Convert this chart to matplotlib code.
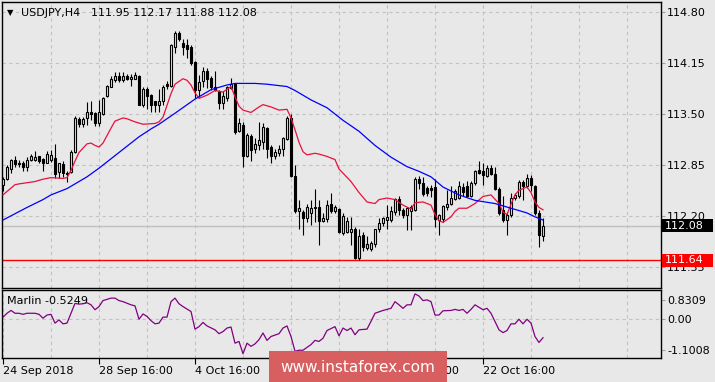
import matplotlib
matplotlib.use("Agg")
import matplotlib.pyplot as plt
from matplotlib.patches import Rectangle
import numpy as np

W, H = 715, 382

symbol = "USDJPY,H4"

# H4 candles, one entry per bar
opens = [112.60, 112.67, 112.80, 112.92, 112.88, 112.87, 112.82, 112.91, 112.91, 112.96,
         112.93, 112.88, 112.91, 112.94, 112.76, 112.86, 112.75, 112.76, 113.02, 113.44,
         113.37, 113.45, 113.53, 113.51, 113.39, 113.50, 113.73, 113.85, 113.93, 113.99,
         113.93, 113.99, 113.95, 113.95, 113.98, 113.62, 113.82, 113.74, 113.66, 113.61,
         113.66, 113.88, 113.86, 114.36, 114.53, 114.40, 114.38, 114.35, 114.16, 113.81,
         113.92, 114.05, 113.96, 113.85, 113.79, 113.64, 113.71, 113.83, 113.88, 113.28,
         113.36, 112.97, 113.22, 113.05, 113.10, 113.15, 113.32, 113.08, 112.96, 113.00,
         113.06, 113.18, 113.45, 112.71, 112.26, 112.25, 112.17, 112.24, 112.30, 112.31,
         112.14, 112.16, 112.36, 112.26, 112.29, 111.99, 112.00, 112.00, 112.04, 111.66,
         111.96, 111.79, 111.78, 111.85, 112.03, 112.11, 112.15, 112.15, 112.25, 112.42,
         112.28, 112.22, 112.26, 112.28, 112.67, 112.62, 112.56, 112.56, 112.57, 112.15,
         112.16, 112.31, 112.36, 112.42, 112.43, 112.57, 112.58, 112.46, 112.62, 112.79,
         112.77, 112.71, 112.81, 112.73, 112.55, 112.28, 112.15, 112.21, 112.43, 112.45,
         112.64, 112.58, 112.68, 112.58, 112.24, 111.95]
highs = [112.70, 112.85, 112.93, 112.96, 112.91, 112.90, 112.95, 112.99, 113.03, 112.97,
         112.94, 113.03, 113.04, 113.12, 112.88, 112.90, 112.77, 113.04, 113.47, 113.46,
         113.46, 113.65, 113.66, 113.53, 113.68, 113.72, 113.87, 113.99, 114.03, 114.04,
         114.04, 114.01, 114.01, 114.03, 114.00, 113.85, 113.85, 113.76, 113.67, 113.82,
         113.87, 113.92, 114.39, 114.56, 114.56, 114.46, 114.46, 114.38, 114.17, 114.00,
         114.10, 114.08, 113.99, 114.05, 113.81, 113.79, 113.86, 113.96, 113.89, 113.45,
         113.40, 113.26, 113.25, 113.20, 113.40, 113.38, 113.34, 113.10, 113.06, 113.10,
         113.21, 113.48, 113.50, 112.85, 112.40, 112.28, 112.36, 112.41, 112.54, 112.41,
         112.24, 112.41, 112.49, 112.34, 112.30, 112.24, 112.19, 112.19, 112.06, 112.04,
         112.00, 111.94, 111.88, 112.04, 112.17, 112.19, 112.34, 112.33, 112.43, 112.45,
         112.30, 112.32, 112.34, 112.70, 112.71, 112.70, 112.58, 112.60, 112.67, 112.23,
         112.34, 112.53, 112.58, 112.54, 112.65, 112.62, 112.65, 112.65, 112.79, 112.90,
         112.88, 112.85, 112.85, 112.83, 112.57, 112.45, 112.25, 112.49, 112.49, 112.66,
         112.66, 112.74, 112.72, 112.60, 112.28, 112.17]
lows = [112.52, 112.66, 112.75, 112.82, 112.82, 112.77, 112.78, 112.90, 112.90, 112.87,
        112.77, 112.87, 112.89, 112.69, 112.68, 112.70, 112.64, 112.75, 113.00, 113.34,
        113.34, 113.36, 113.43, 113.35, 113.35, 113.49, 113.72, 113.84, 113.91, 113.91,
        113.91, 113.93, 113.86, 113.94, 113.61, 113.59, 113.57, 113.53, 113.52, 113.52,
        113.62, 113.82, 113.84, 114.28, 114.43, 114.25, 114.22, 114.13, 113.70, 113.72,
        113.85, 113.83, 113.81, 113.79, 113.57, 113.57, 113.67, 113.82, 113.24, 113.27,
        112.83, 112.95, 112.90, 113.00, 113.04, 113.06, 112.94, 112.87, 112.93, 112.97,
        112.96, 113.17, 112.70, 112.24, 112.04, 111.96, 112.13, 112.09, 112.13, 111.83,
        112.13, 112.13, 112.24, 112.24, 111.98, 111.96, 111.98, 111.83, 111.65, 111.64,
        111.75, 111.77, 111.75, 111.81, 112.00, 112.07, 112.04, 112.12, 112.21, 112.21,
        112.17, 112.02, 112.02, 112.26, 112.55, 112.45, 112.45, 112.44, 112.06, 111.96,
        112.12, 112.28, 112.34, 112.40, 112.42, 112.45, 112.44, 112.44, 112.60, 112.74,
        112.60, 112.70, 112.72, 112.53, 112.22, 112.13, 111.96, 112.19, 112.41, 112.43,
        112.41, 112.56, 112.52, 112.22, 111.81, 111.88]
closes = [112.67, 112.82, 112.91, 112.86, 112.86, 112.82, 112.91, 112.96, 112.95, 112.90,
          112.87, 112.99, 112.98, 112.73, 112.87, 112.75, 112.73, 113.02, 113.45, 113.37,
          113.44, 113.53, 113.50, 113.39, 113.52, 113.70, 113.86, 113.94, 113.98, 113.93,
          113.99, 113.95, 113.97, 114.00, 113.62, 113.82, 113.73, 113.61, 113.61, 113.66,
          113.85, 113.86, 114.38, 114.53, 114.45, 114.36, 114.33, 114.15, 113.81, 113.91,
          114.05, 113.95, 113.85, 113.81, 113.64, 113.73, 113.84, 113.88, 113.27, 113.38,
          112.97, 113.23, 113.04, 113.12, 113.17, 113.34, 113.06, 112.96, 113.02, 113.06,
          113.19, 113.45, 112.71, 112.26, 112.30, 112.17, 112.31, 112.30, 112.31, 112.14,
          112.18, 112.34, 112.26, 112.31, 112.00, 112.20, 112.14, 112.04, 111.66, 111.95,
          111.80, 111.84, 111.86, 112.03, 112.11, 112.17, 112.19, 112.26, 112.42, 112.28,
          112.21, 112.30, 112.32, 112.67, 112.62, 112.48, 112.50, 112.53, 112.16, 112.21,
          112.33, 112.36, 112.43, 112.52, 112.58, 112.51, 112.46, 112.62, 112.78, 112.75,
          112.72, 112.81, 112.73, 112.55, 112.24, 112.15, 112.21, 112.43, 112.47, 112.64,
          112.58, 112.68, 112.60, 112.24, 111.96, 112.08]

# fast (red) moving average, read at bar positions
fast_idx = [0, 3, 4, 8, 10, 12, 15, 16, 17, 18, 19, 21, 22, 23, 24, 25, 27, 28, 30, 31,
            33, 35, 38, 39, 40, 42, 43, 45, 46, 47, 48, 49, 51, 53, 55, 57, 58, 59, 60, 62,
            64, 65, 67, 69, 71, 72, 73, 74, 75, 76, 78, 79, 81, 83, 84, 87, 89, 91, 93, 94,
            96, 98, 100, 102, 103, 105, 107, 108, 109, 110, 112, 113, 114, 116, 118, 120,
            122, 124, 125, 126, 127, 128, 129, 131, 132, 133, 134, 135]
fast_val = [112.47, 112.60, 112.61, 112.64, 112.67, 112.69, 112.68, 112.69, 112.78, 112.90,
            113.01, 113.12, 113.13, 113.10, 113.08, 113.13, 113.32, 113.41, 113.45, 113.44,
            113.40, 113.37, 113.38, 113.40, 113.46, 113.76, 113.88, 113.95, 113.93, 113.87,
            113.77, 113.70, 113.74, 113.80, 113.78, 113.85, 113.72, 113.60, 113.55, 113.52,
            113.59, 113.62, 113.59, 113.55, 113.56, 113.45, 113.30, 113.14, 113.02, 112.98,
            113.00, 112.99, 112.96, 112.92, 112.80, 112.64, 112.50, 112.38, 112.36, 112.41,
            112.43, 112.41, 112.34, 112.29, 112.37, 112.38, 112.34, 112.22, 112.14, 112.12,
            112.19, 112.26, 112.30, 112.30, 112.36, 112.45, 112.47, 112.36, 112.25, 112.22,
            112.35, 112.47, 112.53, 112.57, 112.50, 112.38, 112.31, 112.28]

# slow (blue) moving average
slow_idx = [0, 6, 10, 12, 16, 21, 24, 28, 31, 34, 37, 39, 43, 48, 52, 56, 58, 63, 66, 71,
            73, 77, 81, 85, 89, 93, 97, 101, 104, 107, 110, 114, 118, 123, 127, 131, 133, 135]
slow_val = [112.15, 112.31, 112.41, 112.47, 112.55, 112.70, 112.81, 112.97, 113.09, 113.21,
            113.31, 113.37, 113.51, 113.69, 113.81, 113.87, 113.89, 113.89, 113.88, 113.85,
            113.80, 113.68, 113.58, 113.42, 113.28, 113.10, 112.95, 112.83, 112.77, 112.70,
            112.57, 112.47, 112.40, 112.36, 112.30, 112.24, 112.19, 112.15]

# Marlin oscillator
marlin_idx = [0, 1, 2, 3, 4, 5, 6, 8, 9, 10, 11, 12, 13, 14, 15, 16, 17, 18, 19, 20,
              21, 22, 23, 24, 25, 27, 28, 29, 30, 32, 33, 34, 35, 36, 37, 38, 39, 40, 41, 42,
              43, 44, 45, 47, 48, 49, 50, 51, 53, 54, 55, 56, 57, 58, 59, 60, 61, 62, 63, 64,
              65, 66, 67, 69, 70, 71, 72, 73, 74, 75, 77, 78, 79, 80, 81, 83, 84, 85, 86, 87,
              88, 89, 91, 92, 93, 95, 97, 98, 99, 100, 101, 102, 103, 104, 105, 106, 107, 108,
              109, 110, 112, 113, 114, 115, 116, 117, 118, 119, 120, 121, 122, 124, 125, 126,
              127, 128, 129, 130, 131, 132, 133, 134, 135]
marlin_val = [0.06, 0.17, 0.25, 0.17, 0.17, 0.14, 0.17, 0.17, 0.14, 0.03, 0.12, 0.14, -0.11,
              -0.02, -0.13, -0.11, 0.17, 0.45, 0.43, 0.44, 0.47, 0.41, 0.27, 0.36, 0.53, 0.60,
              0.60, 0.53, 0.50, 0.41, 0.38, 0.00, 0.15, 0.08, -0.04, -0.13, -0.11, 0.06, 0.06,
              0.50, 0.60, 0.44, 0.36, 0.22, -0.28, -0.21, -0.09, -0.19, -0.30, -0.41, -0.35,
              -0.25, -0.22, -0.68, -0.63, -0.98, -0.68, -0.77, -0.70, -0.58, -0.39, -0.60,
              -0.49, -0.41, -0.25, -0.19, -0.49, -0.91, -0.88, -0.88, -0.72, -0.60, -0.63,
              -0.54, -0.32, -0.21, -0.47, -0.25, -0.32, -0.25, -0.44, -0.30, -0.28, -0.06,
              0.17, 0.25, 0.31, 0.50, 0.41, 0.31, 0.41, 0.41, 0.72, 0.66, 0.53, 0.55, 0.50,
              0.12, 0.12, 0.24, 0.25, 0.28, 0.25, 0.28, 0.17, 0.28, 0.41, 0.34, 0.27, 0.31,
              0.17, -0.30, -0.38, -0.32, -0.13, -0.13, 0.00, -0.13, 0.00, -0.11, -0.49, -0.66,
              -0.5249]
marlin_max, marlin_min = 0.8309, -1.1008

level_line = 111.64
price_ticks = [114.80, 114.15, 113.50, 112.85, 112.20, 111.55]
date_idx = [0, 24, 48, 72, 96, 120]
date_labels = ["24 Sep 2018", "28 Sep 16:00", "4 Oct 16:00", "10 Oct 16:00",
               "16 Oct 16:00", "22 Oct 16:00"]

BG = "#e8e8e8"
GRID = "#c2c2c2"
FS = 8


def fig_rect(left, top, right, bottom):
    return [left / W, 1 - bottom / H, (right - left) / W, (bottom - top) / H]


fig = plt.figure(figsize=(W / 100, H / 100), dpi=100, facecolor=BG)
ax = fig.add_axes(fig_rect(2, 2, 661, 288), facecolor=BG)
ax2 = fig.add_axes(fig_rect(2, 290, 661, 358), facecolor=BG)

xlim = (-0.25, 164.5)
ylim = (111.284, 114.927)
grid_idx = np.arange(12, 165, 12)

# ---- price panel ----
o, hi, lo, c = (np.array(v) for v in (opens, highs, lows, closes))
idx = np.arange(len(c))
up = c >= o
ax.vlines(idx, lo, hi, color="black", lw=0.8, zorder=3)
ax.bar(idx[up], c[up] - o[up], bottom=o[up], width=0.55, facecolor=BG,
       edgecolor="black", lw=0.8, zorder=4)
ax.bar(idx[~up], o[~up] - c[~up], bottom=c[~up], width=0.55, facecolor="black",
       edgecolor="black", lw=0.8, zorder=4)

ax.plot(fast_idx, fast_val, color="#e8103c", lw=0.9, zorder=5)
ax.plot(slow_idx, slow_val, color="#0000ff", lw=0.9, zorder=5)

ax.axhline(closes[-1], color="#c0c0c0", lw=1, zorder=2)
ax.axhline(level_line, color="#ff0000", lw=1, zorder=2)

ax.set_xlim(*xlim)
ax.set_ylim(*ylim)
ax.set_xticks(grid_idx)
ax.set_xticklabels([])
ax.tick_params(axis="x", length=0)
ax.yaxis.tick_right()
ax.set_yticks(price_ticks)
ax.set_yticklabels([f"{p:.2f}" for p in price_ticks])
ax.tick_params(axis="y", length=3, color="#a0a0a0", labelsize=FS, pad=1.5)
ax.grid(True, linestyle=(0, (3, 3)), color=GRID, lw=0.8, zorder=0)
ax.set_axisbelow(True)
for s in ax.spines.values():
    s.set_color("black")
    s.set_linewidth(1)

# price markers on the right scale (box 51 px wide, 12 px tall)
px_per_unit = 286 / (ylim[1] - ylim[0])
half_h = 6.5 / px_per_unit
for val, bg in ((closes[-1], "black"), (level_line, "#ff0000")):
    ax.add_patch(Rectangle((1.0 + 1 / 659, val - half_h), 51 / 659, 2 * half_h,
                           transform=ax.get_yaxis_transform(), facecolor=bg,
                           edgecolor="none", clip_on=False, zorder=9))
    ax.text(1.0 + 4 / 659, val, f"{val:.2f}", transform=ax.get_yaxis_transform(),
            ha="left", va="center", color="white", fontsize=FS, zorder=10,
            clip_on=False)

# header
fig.text(7 / W, 1 - 13 / H, "\u25bc", fontsize=6, color="black", va="center")
fig.text(21 / W, 1 - 13 / H, symbol, fontsize=FS, color="black", va="center")
fig.text(91 / W, 1 - 13 / H,
         f"{opens[-1]:.2f} {highs[-1]:.2f} {lows[-1]:.2f} {closes[-1]:.2f}",
         fontsize=FS, color="black", va="center")

# ---- Marlin panel ----
ax2.plot(marlin_idx, marlin_val, color="#800080", lw=0.9, zorder=5)
ax2.axhline(0, color=GRID, lw=0.8, linestyle=(0, (3, 3)), zorder=0)
ax2.set_xlim(*xlim)
ax2.set_ylim(marlin_min, marlin_max)
ax2.set_xticks(date_idx)
ax2.set_xticklabels(date_labels, ha="left")
ax2.set_xticks(grid_idx[grid_idx % 24 != 0], minor=True)
ax2.tick_params(axis="x", which="major", length=4, color="black", labelsize=FS, pad=2)
ax2.tick_params(axis="x", which="minor", length=0)
ax2.grid(True, axis="x", which="both", linestyle=(0, (3, 3)), color=GRID, lw=0.8)
ax2.set_axisbelow(True)
span = marlin_max - marlin_min
ax2.yaxis.tick_right()
ax2.set_yticks([marlin_max - span * 10 / 68, 0, marlin_min + span * 8 / 68])
ax2.set_yticklabels([f"{marlin_max:.4f}", "0.00", f"{marlin_min:.4f}"])
ax2.tick_params(axis="y", length=3, color="#a0a0a0", labelsize=FS, pad=1.5)
for s in ax2.spines.values():
    s.set_color("black")
    s.set_linewidth(1)
ax2.text(5 / 659, 1 - 11 / 68, f"Marlin {marlin_val[-1]:.4f}", transform=ax2.transAxes,
         fontsize=FS, va="center", ha="left")

# watermark
fig.patches.append(Rectangle((269 / W, 0), 178 / W, 31 / H, transform=fig.transFigure,
                             facecolor="#d75f5f", edgecolor="none", zorder=20))
fig.text(358 / W, 1 - 367 / H, "www.instaforex.com", color="white", fontsize=11,
         ha="center", va="center", zorder=21)

fig.savefig("out.png", dpi=100, facecolor=BG)
